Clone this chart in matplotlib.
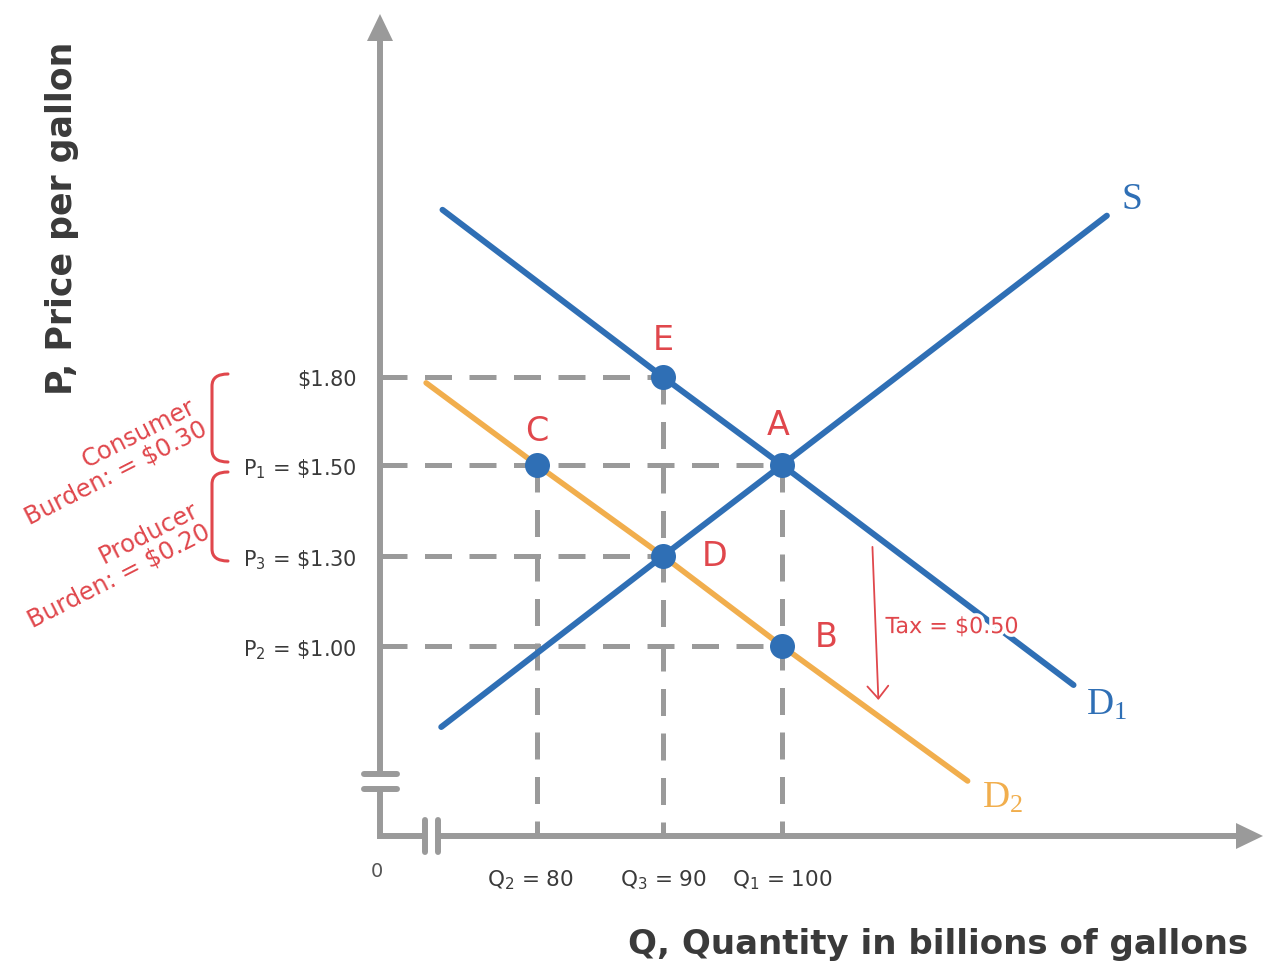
import numpy as np
import matplotlib
matplotlib.use("Agg")
import matplotlib.pyplot as plt
from matplotlib.lines import Line2D
from matplotlib.patches import Polygon, PathPatch
from matplotlib.path import Path
import matplotlib.patheffects as pe

# ---------------- data ----------------
# demand before tax (D1), supply (S), demand after tax (D2)
d1_q = [72.5, 90, 100, 124.5]
d1_p = [2.37, 1.80, 1.50, 0.87]
s_q = [72.4, 90, 100, 127.3]
s_p = [0.73, 1.30, 1.50, 2.35]
d2_q = [71.2, 80, 90, 100, 115.6]
d2_p = [1.78, 1.50, 1.30, 1.00, 0.55]

point_names = ["E", "A", "C", "D", "B"]
point_q = [90, 100, 80, 90, 100]
point_p = [1.80, 1.50, 1.50, 1.30, 1.00]

guide_h_p = [1.80, 1.50, 1.30, 1.00]
guide_h_q_end = [90, 100, 90, 100]
guide_v_q = [80, 90, 100]
guide_v_p_top = [1.50, 1.80, 1.50]

price_ticks = [1.80, 1.50, 1.30, 1.00]
price_labels = ["\\$1.80", "P$\\mathregular{_1}$ = \\$1.50",
                "P$\\mathregular{_3}$ = \\$1.30", "P$\\mathregular{_2}$ = \\$1.00"]
qty_ticks = [80, 90, 100]
qty_labels = ["Q$\\mathregular{_2}$ = 80", "Q$\\mathregular{_3}$ = 90",
              "Q$\\mathregular{_1}$ = 100"]

tax_q = [107.6, 108.1]
tax_p = [1.32, 0.82]

# ---------------- style ----------------
W, H = 1264, 970
BLUE = "#2f6fb5"
ORANGE = "#f1ae4d"
RED = "#e0474c"
GRAY = "#9a9a9a"
TXT = "#3a3a3a"
SANS = "DejaVu Sans"
SERIF = "Liberation Serif"


def piecewise(src, dst):
    src = np.asarray(src, float)
    dst = np.asarray(dst, float)
    s0 = (dst[1] - dst[0]) / (src[1] - src[0])
    s1 = (dst[-1] - dst[-2]) / (src[-1] - src[-2])

    def f(v):
        v = np.asarray(v, float)
        out = np.interp(v, src, dst)
        out = np.where(v < src[0], dst[0] + (v - src[0]) * s0, out)
        out = np.where(v > src[-1], dst[-1] + (v - src[-1]) * s1, out)
        return out
    return f


# schematic (non-uniform) axes as in the original drawing
x_anchor_v, x_anchor_px = [80, 90, 100], [537, 663, 782]
y_anchor_v, y_anchor_px = [1.00, 1.30, 1.50, 1.80], [323, 413, 504, 592]
fx, ix = piecewise(x_anchor_v, x_anchor_px), piecewise(x_anchor_px, x_anchor_v)
fy, iy = piecewise(y_anchor_v, y_anchor_px), piecewise(y_anchor_px, y_anchor_v)

fig = plt.figure(figsize=(W / 100, H / 100), dpi=100)
ax = fig.add_axes([380 / W, 133 / H, 882 / W, 822 / H])
ax.set_xscale("function", functions=(fx, ix))
ax.set_yscale("function", functions=(fy, iy))
x0, x1 = float(ix(380)), float(ix(1262))
y0, y1 = float(iy(133)), float(iy(955))
ax.set_xlim(x0, x1)
ax.set_ylim(y0, y1)
ax.axis("off")


def F(x, ytop):
    return (x / W, 1 - ytop / H)


# ---------------- guides ----------------
for p, qe in zip(guide_h_p, guide_h_q_end):
    ax.plot([x0, qe], [p, p], color=GRAY, lw=3.6, dashes=(5.4, 3.5),
            dash_capstyle="butt", zorder=1)
for q, pt in zip(guide_v_q, guide_v_p_top):
    ax.plot([q, q], [pt, y0], color=GRAY, lw=3.6, dashes=(5.4, 3.5),
            dash_capstyle="butt", zorder=1)

# ---------------- curves ----------------
ax.plot(d1_q, d1_p, color=BLUE, lw=4.3, solid_capstyle="round", zorder=3)
ax.plot(s_q, s_p, color=BLUE, lw=4.3, solid_capstyle="round", zorder=3)
ax.plot(d2_q, d2_p, color=ORANGE, lw=4.0, solid_capstyle="round", zorder=2)

ax.plot(point_q, point_p, "o", color=BLUE, ms=18, zorder=5, mec="none")

offsets = {"E": (0, 27), "A": (-3, 29), "C": (0, 24.5), "D": (37, 0), "B": (32, 6.5)}
for n, q, p in zip(point_names, point_q, point_p):
    ax.annotate(n, (q, p), xytext=offsets[n], textcoords="offset points",
                ha="center", va="center", color=RED, fontsize=24, family=SANS)

ax.annotate("S", (s_q[-1], s_p[-1]), xytext=(18, 12), textcoords="offset points",
            ha="center", va="center", color=BLUE, fontsize=27, family=SERIF)
ax.annotate("D$\\mathregular{_1}$", (d1_q[-1], d1_p[-1]), xytext=(24, -14),
            textcoords="offset points", ha="center", va="center", color=BLUE,
            fontsize=27, family=SERIF)
ax.annotate("D$\\mathregular{_2}$", (d2_q[-1], d2_p[-1]), xytext=(25, -12),
            textcoords="offset points", ha="center", va="center", color=ORANGE,
            fontsize=27, family=SERIF)

# tax arrow
ax.annotate("", xy=(tax_q[1], tax_p[1]), xytext=(tax_q[0], tax_p[0]),
            arrowprops=dict(arrowstyle="->,head_length=0.9,head_width=0.75",
                            color=RED, lw=1.3, shrinkA=0, shrinkB=0,
                            mutation_scale=10), zorder=4)
ax.text(108.7, 1.063, "Tax = \\$0.50", color=RED, fontsize=16, family=SANS,
        ha="left", va="center", zorder=6,
        path_effects=[pe.withStroke(linewidth=5, foreground="white")])

# ---------------- tick labels ----------------
for p, lab in zip(price_ticks, price_labels):
    ax.annotate(lab, (x0, p), xytext=(-16.5, 0), textcoords="offset points",
                ha="right", va="center_baseline", fontsize=15, color=TXT,
                family=SANS, annotation_clip=False)
qty_dx = [-5, 0, 0]
for q, lab, dx in zip(qty_ticks, qty_labels, qty_dx):
    ax.annotate(lab, (q, y0), xytext=(dx, -29), textcoords="offset points",
                ha="center", va="center_baseline", fontsize=15.5, color=TXT,
                family=SANS, annotation_clip=False)
ax.annotate("0", (x0, y0), xytext=(-2, -24.5), textcoords="offset points",
            ha="center", va="center", fontsize=14, color="#555555",
            family=SANS, annotation_clip=False)

# ---------------- axes (drawn with breaks) ----------------
lw_ax = 4.3
def fline(xs, ys, **kw):
    pts = [F(x, y) for x, y in zip(xs, ys)]
    fig.add_artist(Line2D([p[0] for p in pts], [p[1] for p in pts],
                          transform=fig.transFigure, color=GRAY, lw=lw_ax, **kw))

fline([380, 380, 425], [790, 837, 837], solid_joinstyle="miter",
      solid_capstyle="butt")
fline([380, 380], [775, 40], solid_capstyle="butt")
fline([438, 1238], [837, 837], solid_capstyle="butt")
for yy in (775, 790):
    fline([364, 397], [yy, yy], solid_capstyle="round")
for xx in (425, 438):
    fline([xx, xx], [821, 853], solid_capstyle="round")
fig.add_artist(Polygon([F(367, 42), F(393, 42), F(380, 15)], closed=True,
                       transform=fig.transFigure, color=GRAY, lw=0))
fig.add_artist(Polygon([F(1236, 824), F(1236, 850), F(1263, 837)], closed=True,
                       transform=fig.transFigure, color=GRAY, lw=0))

# axis titles
fig.text(*F(938, 945), "Q, Quantity in billions of gallons", ha="center",
         va="center", fontsize=24.5, fontweight="bold", color=TXT, family=SANS)
fig.text(*F(62, 218), "P, Price per gallon", ha="center", va="center",
         rotation=90, fontsize=25, fontweight="bold", color=TXT, family=SANS)

# ---------------- tax burden braces ----------------
def brace(top, bot, xa=212, xb=228, r=12):
    verts = [F(xb, top), F(xa, top), F(xa, top + r), F(xa, bot - r),
             F(xa, bot), F(xb, bot)]
    codes = [Path.MOVETO, Path.CURVE3, Path.CURVE3, Path.LINETO,
             Path.CURVE3, Path.CURVE3]
    fig.add_artist(PathPatch(Path(verts, codes), fill=False, ec=RED, lw=2.2,
                             transform=fig.transFigure, capstyle="round"))

brace(375, 463)
brace(473, 562)

fig.text(*F(110, 462), "Consumer\nBurden: = \\$0.30", rotation=27,
         rotation_mode="anchor", ha="center", va="center", multialignment="right",
         color=RED, fontsize=17.5, family=SANS, linespacing=1.0)
fig.text(*F(113, 565), "Producer\nBurden: = \\$0.20", rotation=27,
         rotation_mode="anchor", ha="center", va="center", multialignment="right",
         color=RED, fontsize=17.5, family=SANS, linespacing=1.0)

fig.savefig("out.png", dpi=100)
